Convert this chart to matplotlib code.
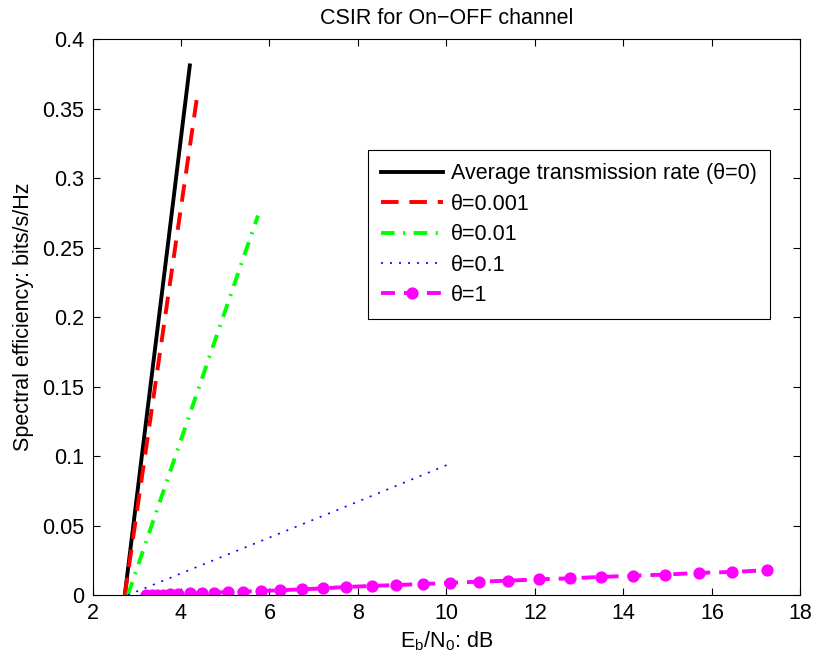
import matplotlib
matplotlib.use("Agg")
import matplotlib.pyplot as plt
from matplotlib.ticker import FuncFormatter

plt.rcParams['font.family'] = ['Liberation Sans', 'DejaVu Sans']
plt.rcParams['mathtext.fontset'] = 'custom'
plt.rcParams['mathtext.rm'] = 'Liberation Sans'
plt.rcParams['mathtext.it'] = 'Liberation Sans'

# curves (Eb/N0 in dB, spectral efficiency in bits/s/Hz)
avg_x = [2.73, 3.2, 3.7, 4.20]
avg_y = [0.0, 0.122, 0.251, 0.381]

th001_x = [2.73, 3.3, 3.85, 4.38]
th001_y = [0.0, 0.125, 0.246, 0.362]

th01_x = [2.80, 3.8, 4.8, 5.74]
th01_y = [0.0, 0.093, 0.186, 0.273]

th1_x = [2.80, 5.2, 7.6, 10.01]
th1_y = [0.0, 0.031, 0.062, 0.0935]

th10_x = [3.21, 3.34, 3.45, 3.60, 3.75, 3.94, 4.20, 4.47, 4.75, 5.07,
          5.41, 5.81, 6.24, 6.73, 7.22, 7.73, 8.31, 8.87, 9.48, 10.09,
          10.73, 11.40, 12.10, 12.79, 13.49, 14.22, 14.95, 15.71, 16.46, 17.24]
th10_y = [0.0, 0.0001, 0.0002, 0.0003, 0.0005, 0.0007, 0.0012, 0.0014, 0.0017, 0.0022,
          0.0025, 0.0029, 0.0034, 0.0041, 0.0048, 0.0058, 0.0065, 0.0072, 0.0079, 0.0088,
          0.0096, 0.0103, 0.0113, 0.0120, 0.0130, 0.0139, 0.0147, 0.0159, 0.0166, 0.0178]

labels = ['Average transmission rate (θ=0)', 'θ=0.001', 'θ=0.01', 'θ=0.1', 'θ=1']

fs = 15.5

fig = plt.figure(figsize=(8.15, 6.66), dpi=100)
ax = fig.add_axes([0.1135, 0.1066, 0.8685, 0.8348])

ax.plot(avg_x, avg_y, color='black', lw=2.8, label=labels[0])
ax.plot(th001_x, th001_y, color='red', lw=2.8, dashes=(4.5, 2.8), label=labels[1])
ax.plot(th01_x, th01_y, color='#00ff00', lw=2.8, dashes=(3.5, 2.2, 0.5, 2.2), label=labels[2])
ax.plot(th1_x, th1_y, color='blue', lw=1.2, dashes=(1.2, 4.2), label=labels[3])
ax.plot(th10_x, th10_y, color='magenta', lw=2.8, dashes=(3.6, 2.3),
        marker='o', markersize=7.8, label=labels[4])

ax.set_xlim(2, 18)
ax.set_ylim(0, 0.4)
ax.set_xticks(range(2, 19, 2))
ax.set_yticks([i * 0.05 for i in range(9)])
ax.yaxis.set_major_formatter(FuncFormatter(lambda v, p: '%g' % round(v, 4)))
ax.tick_params(direction='in', top=True, right=True, labelsize=fs, length=5, width=0.8, pad=6)
for s in ax.spines.values():
    s.set_linewidth(0.8)

ax.set_title('CSIR for On\u2212OFF channel', fontsize=fs, pad=11)
ax.set_xlabel('E$_\\mathrm{b}$/N$_\\mathrm{0}$: dB', fontsize=fs, labelpad=4)
ax.set_ylabel('Spectral efficiency: bits/s/Hz', fontsize=fs, labelpad=6)

leg = ax.legend(loc='upper right', bbox_to_anchor=(0.957, 0.800), fontsize=fs,
                handlelength=2.9, handletextpad=0.37, labelspacing=0.44,
                borderpad=0.6, borderaxespad=0, fancybox=False, framealpha=1,
                edgecolor='black')
leg.get_frame().set_linewidth(0.8)

fig.savefig('out.png', dpi=100)
